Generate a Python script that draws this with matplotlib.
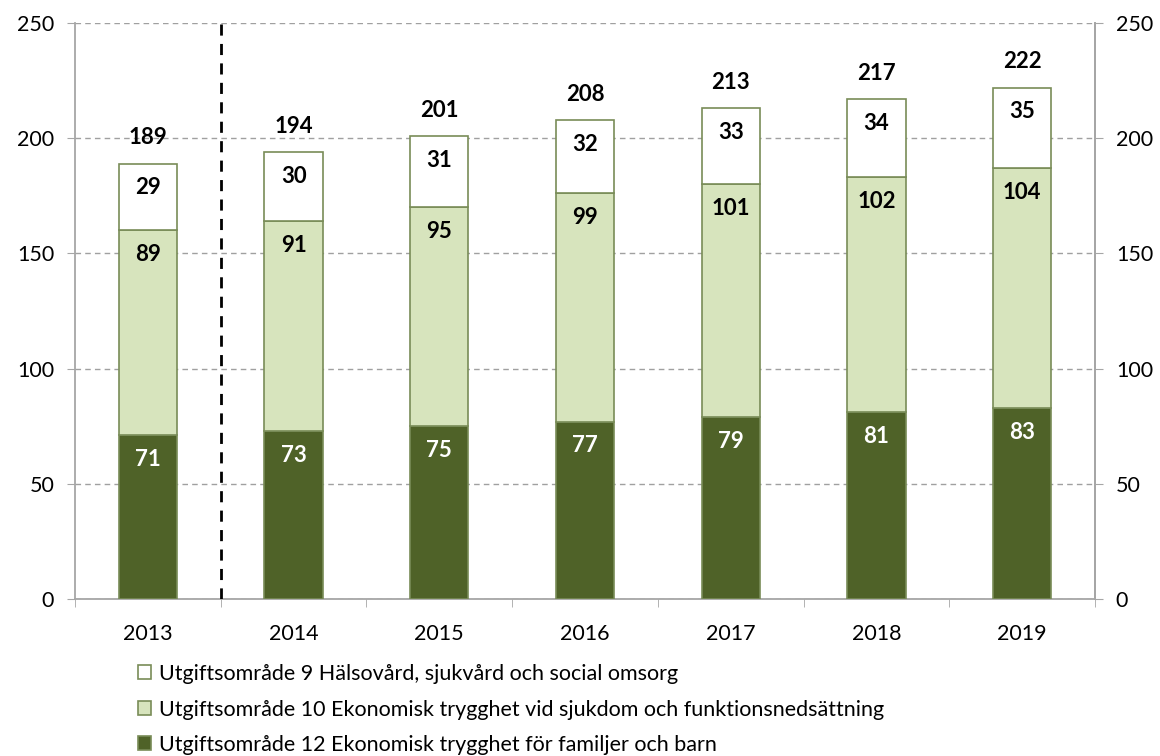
import matplotlib
matplotlib.use("Agg")
import matplotlib.pyplot as plt
from matplotlib.patches import Patch
import numpy as np

plt.rcParams['font.family'] = ['Lato', 'DejaVu Sans']

years = ["2013", "2014", "2015", "2016", "2017", "2018", "2019"]
uo12 = [71, 73, 75, 77, 79, 81, 83]
uo10 = [89, 91, 95, 99, 101, 102, 104]
uo9 = [29, 30, 31, 32, 33, 34, 35]
totals = [189, 194, 201, 208, 213, 217, 222]
legend_labels = [
    "Utgiftsområde 9 Hälsovård, sjukvård och social omsorg",
    "Utgiftsområde 10 Ekonomisk trygghet vid sjukdom och funktionsnedsättning",
    "Utgiftsområde 12 Ekonomisk trygghet för familjer och barn",
]

c_dark = "#4F6228"
c_light = "#D7E4BD"
c_white = "#FFFFFF"
edge = "#798C58"
spine_c = "#A6A6A6"

fig = plt.figure(figsize=(11.6, 7.56), dpi=100)
ax = fig.add_axes([75/1160, 1-599/756, 1020/1160, 576/756])

x = np.arange(len(years))
w = 0.4
ax.bar(x, uo12, w, color=c_dark, edgecolor=edge, linewidth=1.2, zorder=3)
bottom2 = np.array(uo12)
ax.bar(x, uo10, w, bottom=bottom2, color=c_light, edgecolor=edge, linewidth=1.2, zorder=3)
bottom3 = bottom2 + np.array(uo10)
ax.bar(x, uo9, w, bottom=bottom3, color=c_white, edgecolor=edge, linewidth=1.2, zorder=3)

fs_lab = 16
for i in range(len(years)):
    ax.annotate(str(uo12[i]), (x[i], uo12[i]), xytext=(0, -17.5), textcoords="offset points",
                ha="center", va="center", color="white", fontweight="bold", fontsize=fs_lab, zorder=5)
    ax.annotate(str(uo10[i]), (x[i], bottom3[i]), xytext=(0, -17.5), textcoords="offset points",
                ha="center", va="center", color="black", fontweight="bold", fontsize=fs_lab, zorder=5)
    ax.annotate(str(uo9[i]), (x[i], totals[i]), xytext=(0, -17.5), textcoords="offset points",
                ha="center", va="center", color="black", fontweight="bold", fontsize=fs_lab, zorder=5)
    ax.annotate(str(totals[i]), (x[i], totals[i]), xytext=(0, 18.5), textcoords="offset points",
                ha="center", va="center", color="black", fontweight="bold", fontsize=fs_lab, zorder=5)

ax.set_xlim(-0.5, len(years) - 0.5)
ax.set_ylim(0, 250)
yt = [0, 50, 100, 150, 200, 250]
ax.set_yticks(yt)
ax.yaxis.grid(True, linestyle=(0, (4, 3)), color="#A0A0A0", linewidth=1, zorder=0)
ax.set_axisbelow(True)

ax.axvline(0.5, color="black", linestyle=(0, (4, 3)), linewidth=2, zorder=4)

ax.set_xticks(x)
ax.set_xticklabels(years, fontsize=15.5)
ax.set_xticks(np.arange(-0.5, len(years), 1), minor=True)
ax.tick_params(axis="x", which="major", length=0, pad=18)
ax.tick_params(axis="x", which="minor", length=6, color=spine_c, direction="out")
ax.tick_params(axis="y", length=6, color=spine_c, direction="out", labelsize=15.5, pad=9)

for s in ["left", "bottom", "right"]:
    ax.spines[s].set_color(spine_c)
    ax.spines[s].set_linewidth(1.3)
ax.spines["top"].set_visible(False)

ax2 = ax.twinx()
ax2.set_ylim(0, 250)
ax2.set_yticks(yt)
ax2.tick_params(axis="y", length=6, color=spine_c, direction="out", labelsize=15.5, pad=9)
for s in ["left", "bottom", "top"]:
    ax2.spines[s].set_visible(False)
ax2.spines["right"].set_color(spine_c)
ax2.spines["right"].set_linewidth(1.3)

handles = [
    Patch(facecolor=c_white, edgecolor=edge, linewidth=1.2),
    Patch(facecolor=c_light, edgecolor=edge, linewidth=1.2),
    Patch(facecolor=c_dark, edgecolor=edge, linewidth=1.2),
]
fig.legend(handles, legend_labels, loc="upper left", bbox_to_anchor=(138/1160, 1-664/756),
           frameon=False, fontsize=15.5, handlelength=0.62, handleheight=0.62,
           handletextpad=0.35, labelspacing=0.72, borderaxespad=0, borderpad=0)

fig.savefig("out.png", dpi=100)
